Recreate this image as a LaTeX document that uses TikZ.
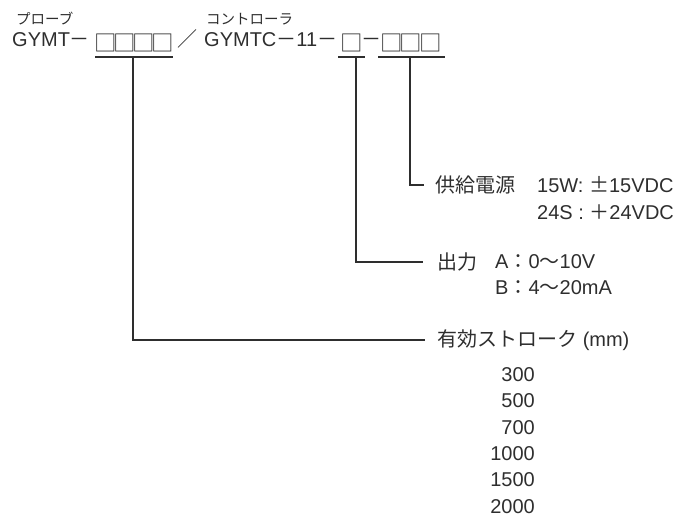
\documentclass[tikz,border=0pt]{standalone}
\usepackage{fontspec}
\setmainfont{Liberation Sans}
\newfontfamily\jpfont{Noto Sans CJK JP}
\usepackage{tikz}
\definecolor{ink}{HTML}{2E2E2E}

\begin{document}
\begin{tikzpicture}[x=1pt,y=-1pt,
  every node/.style={inner sep=0pt, text=ink},
  txt/.style={font=\fontsize{20}{24}\selectfont},
  box/.style={font=\jpfont\fontsize{22.5}{26}\selectfont},
  tag/.style={font=\jpfont\fontsize{14.5}{17}\selectfont, anchor=base west},
  lead/.style={draw=ink, line width=1.3pt}]
\useasboundingbox (0,0) rectangle (688,518);
% model code
\node[tag] (probetag) at (16,25) {プローブ};
\node[tag] (ctrltag) at (206,25) {コントローラ};
\node[txt, anchor=base west] (gymt) at (12,47) {GYMT{\jpfont －}};
\foreach \k in {0,...,3}
  \node[box] (pbox\k) at (105.5+19.2*\k,42.5) {□};
\node[txt, anchor=base west] (slash) at (177,47) {\jpfont ／};
\node[txt, anchor=base west] (gymtc) at (204,47) {GYMTC{\jpfont －}11{\jpfont －}};
\node[box] (obox) at (351.5,42.5) {□};
\node[txt, anchor=base west] (dash) at (361,47) {\jpfont －};
\foreach \k in {0,...,2}
  \node[box] (sbox\k) at (391.5+19.5*\k,42.5) {□};
% underlines
\coordinate (pl) at (95,57);  \coordinate (pm) at (133,57);  \coordinate (pr) at (173,57);
\coordinate (ol) at (338,57); \coordinate (om) at (356,57);  \coordinate (or) at (365,57);
\coordinate (sl) at (378,57); \coordinate (sm) at (410,57);  \coordinate (sr) at (445,57);
\draw[lead] (pl) -- (pr);
\draw[lead] (ol) -- (or);
\draw[lead] (sl) -- (sm) -- (sr);
% items
\node[txt, anchor=west] (pwr) at (435,185) {\jpfont 供給電源};
\node[txt, anchor=west] (pwra) at (537,185) {15W: {\jpfont ±}15VDC};
\node[txt, anchor=west] (pwrb) at (537,212) {24S : {\jpfont ＋}24VDC};
\node[txt, anchor=west] (out) at (437,262) {\jpfont 出力};
\node[txt, anchor=west] (outa) at (495,262) {A{\jpfont ：}0{\jpfont 〜}10V};
\node[txt, anchor=west] (outb) at (495,288) {B{\jpfont ：}4{\jpfont 〜}20mA};
\node[txt, anchor=west] (stroke) at (437,340) {{\jpfont 有効ストローク} (mm)};
\foreach \len [count=\i] in {300,500,700,1000,1500,2000}
  \node[txt, anchor=east] (len\i) at (535,348.4+26.3*\i) {\len};
% leaders
\draw[lead] (sm) |- ([xshift=-11pt]pwr.west);
\draw[lead] (om) |- ([xshift=-14pt]out.west);
\draw[lead] (pm) |- ([xshift=-12pt]stroke.west);
\end{tikzpicture}
\end{document}
